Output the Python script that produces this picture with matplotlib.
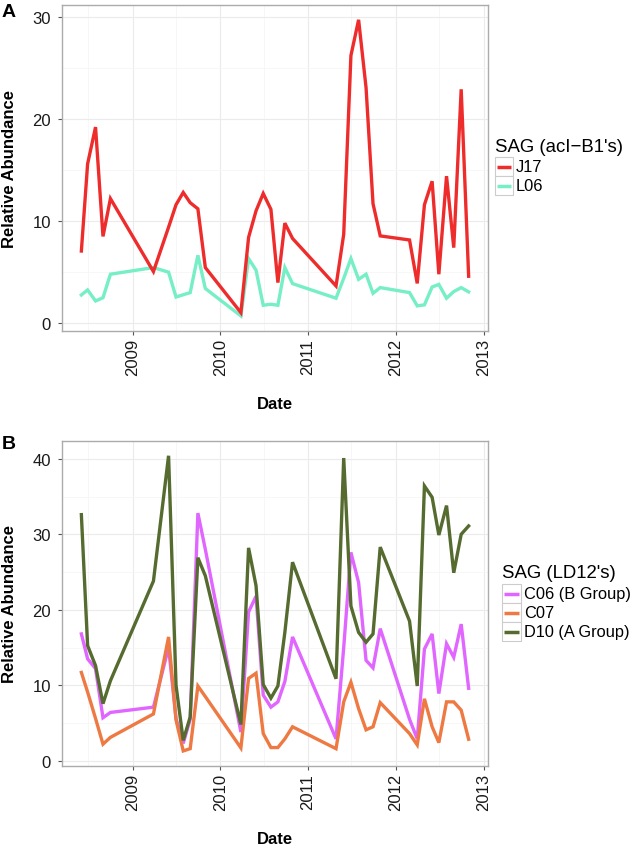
import matplotlib
matplotlib.use("Agg")
import matplotlib.pyplot as plt
import matplotlib.dates as mdates
import pandas as pd
from matplotlib.lines import Line2D
from matplotlib.patches import Rectangle

plt.rcParams['font.family'] = ['Liberation Sans', 'DejaVu Sans']

# ---------------- data ----------------
dates = ["2008-06-02", "2008-06-28", "2008-07-31", "2008-08-31", "2008-10-01",
         "2009-03-29", "2009-05-31", "2009-07-01", "2009-07-31", "2009-08-29",
         "2009-09-30", "2009-10-31", "2010-03-28", "2010-04-29", "2010-05-30",
         "2010-06-29", "2010-07-31", "2010-08-29", "2010-09-27", "2010-10-29",
         "2011-04-28", "2011-05-30", "2011-06-29", "2011-07-31", "2011-08-31",
         "2011-09-29", "2011-10-29", "2012-02-28", "2012-03-31", "2012-04-30",
         "2012-06-01", "2012-06-29", "2012-07-31", "2012-08-30", "2012-09-30",
         "2012-10-31"]

j17 = [7.07, 15.6, 19.2, 8.5, 12.2, 5.06, 9.4, 11.6, 12.8, 11.8, 11.2, 5.45,
       1.04, 8.4, 11.0, 12.7, 11.15, 3.98, 9.8, 8.3, 3.65, 8.7, 26.2, 29.7,
       23.06, 11.7, 8.55, 8.15, 3.9, 11.6, 13.9, 4.8, 14.4, 7.4, 22.9, 4.6]
l06 = [2.77, 3.26, 2.18, 2.5, 4.8, 5.45, 5.0, 2.57, 2.79, 3.0, 6.65, 3.4,
       0.72, 6.33, 5.2, 1.76, 1.86, 1.76, 5.45, 3.88, 2.45, 4.4, 6.33, 4.3,
       4.8, 2.93, 3.49, 3.0, 1.7, 1.8, 3.55, 3.8, 2.45, 3.1, 3.49, 3.07]

c06 = [16.8, 13.5, 12.2, 5.7, 6.4, 7.1, 15.0, 5.6, 2.3, 5.5, 32.8, 28.0,
       3.8, 19.7, 21.8, 8.7, 7.1, 7.8, 10.5, 16.4, 2.9, 15.0, 27.6, 23.6,
       13.3, 12.3, 17.5, 5.5, 2.9, 14.8, 16.8, 8.9, 15.5, 13.7, 18.1, 9.6]
c07 = [11.7, 9.1, 5.6, 2.2, 3.1, 6.2, 16.4, 5.4, 1.3, 1.6, 9.9, 8.5,
       1.7, 10.9, 11.6, 3.6, 1.75, 1.75, 2.9, 4.5, 1.6, 7.8, 10.4, 6.9,
       4.1, 4.5, 7.7, 3.6, 2.1, 8.2, 4.5, 2.4, 7.8, 7.8, 6.7, 2.85]
d10 = [32.6, 15.25, 12.6, 7.56, 10.6, 23.8, 40.4, 10.0, 2.7, 5.8, 26.9, 24.5,
       4.8, 28.2, 23.2, 10.1, 8.3, 9.9, 17.0, 26.3, 10.86, 40.1, 20.5, 17.0,
       15.7, 16.8, 28.3, 18.5, 9.9, 36.4, 34.9, 29.9, 33.8, 24.9, 30.0, 31.1]

names_a = ["J17", "L06"]
names_b = ["C06 (B Group)", "C07", "D10 (A Group)"]
colors_a = ["#EE2C2C", "#76EEC6"]
colors_b = ["#E066FF", "#EE7942", "#556B2F"]
title_a = "SAG (acI\u2212B1's)"
title_b = "SAG (LD12's)"
yticks_a = [0, 10, 20, 30]
yticks_b = [0, 10, 20, 30, 40]

x = pd.to_datetime(dates)

# ---------------- figure ----------------
W, H = 632, 845
fig = plt.figure(figsize=(W / 100, H / 100), dpi=100)


def ax_px(l, t, r, b):
    return fig.add_axes([l / W, 1 - b / H, (r - l) / W, (b - t) / H])


def style(ax, yticks):
    ax.set_facecolor("white")
    for s in ax.spines.values():
        s.set_color("#ABABAB")
        s.set_linewidth(1.0)
    ax.margins(x=0.05, y=0.05)
    ax.autoscale_view()
    xl, yl = ax.get_xlim(), ax.get_ylim()
    ax.xaxis.set_major_locator(mdates.YearLocator())
    ax.xaxis.set_major_formatter(mdates.DateFormatter("%Y"))
    ax.xaxis.set_minor_locator(mdates.MonthLocator(bymonth=7))
    ax.set_yticks(yticks)
    ax.set_yticks([v + 5 for v in yticks], minor=True)
    ax.set_xlim(xl)
    ax.set_ylim(yl)
    ax.grid(which="major", color="#EBEBEB", lw=0.8)
    ax.grid(which="minor", color="#F6F6F6", lw=0.6)
    ax.set_axisbelow(True)
    ax.tick_params(which="major", length=3, width=0.8, color="#555555",
                   labelsize=12, labelcolor="#1a1a1a")
    ax.tick_params(axis="y", pad=5)
    ax.tick_params(axis="x", pad=2)
    ax.tick_params(which="minor", length=0)
    for lab in ax.get_xticklabels():
        lab.set_rotation(90)
        lab.set_va("top")
        lab.set_ha("center")
    ax.set_xlabel("Date", fontsize=12, fontweight="bold")
    ax.set_ylabel("Relative Abundance", fontsize=12, fontweight="bold")


def legend_px(title, labels, colors, tx, ty, kx, row0, rowh, keyw=19):
    fig.text(tx / W, 1 - ty / H, title, fontsize=13.4, ha="left", va="center")
    for i, (lab, col) in enumerate(zip(labels, colors)):
        top = row0 + i * rowh
        fig.patches.append(Rectangle((kx / W, 1 - (top + rowh) / H), keyw / W, rowh / H,
                                     transform=fig.transFigure, facecolor="white",
                                     edgecolor="#CCCCCC", lw=0.8))
        yc = 1 - (top + rowh / 2) / H
        fig.lines.append(Line2D([(kx + 2) / W, (kx + keyw - 2) / W], [yc, yc],
                                transform=fig.transFigure, color=col, lw=2.5,
                                solid_capstyle="butt"))
        fig.text((kx + keyw + 3) / W, yc, lab, fontsize=11.8, ha="left", va="center")


# Panel A
axA = ax_px(62, 6, 488, 331.7)
axA.plot(x, l06, color=colors_a[1], lw=2.4, solid_joinstyle="miter")
axA.plot(x, j17, color=colors_a[0], lw=2.4, solid_joinstyle="miter")
style(axA, yticks_a)
axA.xaxis.set_label_coords(0.5, -0.2)
axA.yaxis.set_label_coords(-0.105, 0.5)

# Panel B
axB = ax_px(62, 442, 488, 766.7)
for vals, col in zip([c06, c07, d10], colors_b):
    axB.plot(x, vals, color=col, lw=2.4, solid_joinstyle="miter")
style(axB, yticks_b)
axB.xaxis.set_label_coords(0.5, -0.2)
axB.yaxis.set_label_coords(-0.105, 0.5)

# Legends
legend_px(title_a, names_a, colors_a, 495, 148, 495, 158, 19, keyw=18)
legend_px(title_b, names_b, colors_b, 502, 573, 502, 585, 19, keyw=19)

# Panel tags
fig.text(2 / W, 1 - 4 / H, "A", fontsize=14, fontweight="bold", ha="left", va="top")
fig.text(2 / W, 1 - 436 / H, "B", fontsize=14, fontweight="bold", ha="left", va="top")

fig.savefig("out.png", dpi=100, facecolor="white")
